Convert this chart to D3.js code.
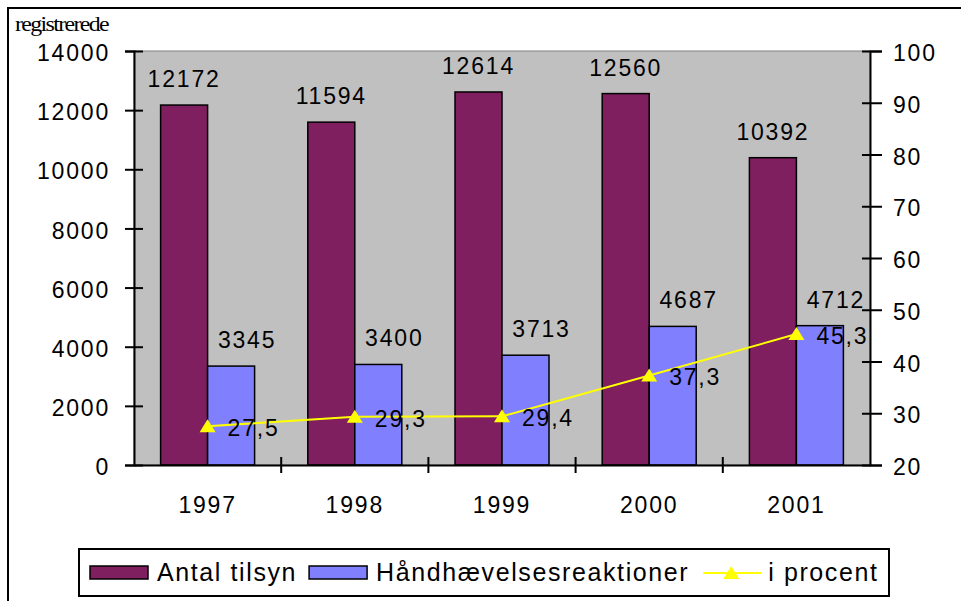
<!DOCTYPE html>
<html>
<head>
<meta charset="utf-8">
<script src="https://cdn.jsdelivr.net/npm/d3@7"></script>
<style>
  html, body { margin: 0; padding: 0; background: #fff; }
  svg { display: block; }
  text { font-family: Arial, "Liberation Sans", sans-serif; fill: #000; }
</style>
</head>
<body>
<div id="chart"></div>
<script>
// data
const years = ["1997", "1998", "1999", "2000", "2001"];
const antalTilsyn = [12172, 11594, 12614, 12560, 10392];
const reaktioner = [3345, 3400, 3713, 4687, 4712];
const procent = [27.5, 29.3, 29.4, 37.3, 45.3];
const leftTicks = [0, 2000, 4000, 6000, 8000, 10000, 12000, 14000];
const rightTicks = [20, 30, 40, 50, 60, 70, 80, 90, 100];
const seriesNames = ["Antal tilsyn", "Håndhævelsesreaktioner", "i procent"];

const config = {
  width: 961,
  height: 601,
  plot: { left: 134, right: 870, top: 51, bottom: 465 },
  colors: { antal: "#7f1f5f", reak: "#8080ff", line: "#ffff00", bg: "#c0c0c0" },
  fontSize: 23,
  spacing: "1.8px"
};

const p = config.plot;
const svg = d3.select("#chart").append("svg")
  .attr("width", config.width)
  .attr("height", config.height);

// outer frame (runs off the right and bottom edges)
svg.append("rect")
  .attr("x", 8).attr("y", 8)
  .attr("width", 1200).attr("height", 1200)
  .attr("fill", "none").attr("stroke", "#000").attr("stroke-width", 2);

// scales
const x = d3.scaleBand().domain(years).range([p.left, p.right]);
const inner = d3.scaleBand().domain(["antal", "reak"])
  .range([0, x.bandwidth()]).paddingOuter(0.566);
const yL = d3.scaleLinear().domain([0, 14000]).range([p.bottom, p.top]);
const yR = d3.scaleLinear().domain([20, 100]).range([p.bottom, p.top]);

// plot background
svg.append("rect")
  .attr("x", p.left).attr("y", p.top)
  .attr("width", p.right - p.left).attr("height", p.bottom - p.top)
  .attr("fill", config.colors.bg)
  .attr("stroke", "#808080").attr("stroke-width", 1);

// bars
const groups = svg.append("g").selectAll("g")
  .data(years)
  .join("g")
  .attr("transform", d => `translate(${x(d)},0)`);

groups.append("rect")
  .attr("x", inner("antal"))
  .attr("width", inner.bandwidth())
  .attr("y", (d, i) => yL(antalTilsyn[i]))
  .attr("height", (d, i) => yL(0) - yL(antalTilsyn[i]))
  .attr("fill", config.colors.antal)
  .attr("stroke", "#000").attr("stroke-width", 1.5);

groups.append("rect")
  .attr("x", inner("reak"))
  .attr("width", inner.bandwidth())
  .attr("y", (d, i) => yL(reaktioner[i]))
  .attr("height", (d, i) => yL(0) - yL(reaktioner[i]))
  .attr("fill", config.colors.reak)
  .attr("stroke", "#000").attr("stroke-width", 1.5);

// bar value labels
groups.append("text")
  .attr("x", inner("antal") + inner.bandwidth() / 2)
  .attr("y", (d, i) => yL(antalTilsyn[i]) - 18)
  .attr("text-anchor", "middle")
  .style("font-size", config.fontSize + "px")
  .style("letter-spacing", config.spacing)
  .text((d, i) => antalTilsyn[i]);

groups.append("text")
  .attr("x", inner("reak") + inner.bandwidth() / 2 + 16)
  .attr("y", (d, i) => yL(reaktioner[i]) - 18)
  .attr("text-anchor", "middle")
  .style("font-size", config.fontSize + "px")
  .style("letter-spacing", config.spacing)
  .text((d, i) => reaktioner[i]);

// axes
const axisL = svg.append("g")
  .attr("transform", `translate(${p.left},0)`)
  .call(d3.axisLeft(yL).tickValues(leftTicks).tickFormat(d3.format("d"))
    .tickSize(9).tickPadding(15));
axisL.selectAll(".tick line").attr("x1", 9);

const axisR = svg.append("g")
  .attr("transform", `translate(${p.right},0)`)
  .call(d3.axisRight(yR).tickValues(rightTicks).tickFormat(d3.format("d"))
    .tickSize(12).tickPadding(11));
axisR.selectAll(".tick line").attr("x1", -8);

const axisB = svg.append("g")
  .attr("transform", `translate(0,${p.bottom})`)
  .call(d3.axisBottom(x).tickSize(0).tickPadding(32));

// category boundary ticks on the x axis
axisB.selectAll(".sep")
  .data(years.slice(1))
  .join("line")
  .attr("class", "sep")
  .attr("x1", d => x(d)).attr("x2", d => x(d))
  .attr("y1", -8).attr("y2", 8)
  .attr("stroke", "#000").attr("stroke-width", 2);

[axisL, axisR, axisB].forEach(a => {
  a.select(".domain").attr("stroke", "#000").attr("stroke-width", 2);
  a.selectAll(".tick line").attr("stroke", "#000").attr("stroke-width", 2);
  a.selectAll("text")
    .style("font-family", "Arial, 'Liberation Sans', sans-serif")
    .style("font-size", config.fontSize + "px")
    .style("letter-spacing", config.spacing)
    .attr("fill", "#000");
});
axisL.selectAll(".tick text").attr("dy", "0.42em");
axisR.selectAll(".tick text").attr("dy", "0.42em");

// percentage line
const pts = years.map((d, i) => [x(d) + x.bandwidth() / 2, yR(procent[i])]);
svg.append("path")
  .attr("d", d3.line()(pts))
  .attr("fill", "none")
  .attr("stroke", config.colors.line)
  .attr("stroke-width", 2);

const tri = "M0,-7L8,6L-8,6Z";
svg.append("g").selectAll("path")
  .data(pts)
  .join("path")
  .attr("d", tri)
  .attr("transform", d => `translate(${d[0]},${d[1]})`)
  .attr("fill", config.colors.line);

const dk = d3.formatLocale({ decimal: ",", thousands: ".", grouping: [3], currency: ["", ""] });
const fmt = dk.format(".1f");
svg.append("g").selectAll("text")
  .data(pts)
  .join("text")
  .attr("x", d => d[0] + 20)
  .attr("y", d => d[1] + 10)
  .style("font-size", config.fontSize + "px")
  .style("letter-spacing", config.spacing)
  .text((d, i) => fmt(procent[i]));

// y axis title
svg.append("text")
  .attr("x", 15).attr("y", 31)
  .attr("textLength", 93)
  .attr("lengthAdjust", "spacingAndGlyphs")
  .style("font-family", "'Liberation Serif', 'Times New Roman', serif")
  .style("font-size", "22px")
  .style("letter-spacing", "-1.5px")
  .text("registrerede");

// legend
const legend = svg.append("g");
legend.append("rect")
  .attr("x", 79).attr("y", 549)
  .attr("width", 810).attr("height", 47)
  .attr("fill", "#fff").attr("stroke", "#000").attr("stroke-width", 2);

let lx = 90;
const ly = 573;
seriesNames.forEach((name, i) => {
  if (i < 2) {
    legend.append("rect")
      .attr("x", lx).attr("y", ly - 7)
      .attr("width", 58).attr("height", 13)
      .attr("fill", i === 0 ? config.colors.antal : config.colors.reak)
      .attr("stroke", "#000").attr("stroke-width", 1.5);
  } else {
    legend.append("line")
      .attr("x1", lx + 2).attr("x2", lx + 60)
      .attr("y1", ly).attr("y2", ly)
      .attr("stroke", config.colors.line).attr("stroke-width", 2);
    legend.append("path")
      .attr("d", tri)
      .attr("transform", `translate(${lx + 30},${ly})`)
      .attr("fill", config.colors.line);
  }
  const t = legend.append("text")
    .attr("x", lx + 67)
    .attr("y", ly + 8)
    .style("font-size", "25px")
    .style("letter-spacing", "1.6px")
    .text(name);
  lx += 67 + t.node().getComputedTextLength() + 12;
});
</script>
</body>
</html>
